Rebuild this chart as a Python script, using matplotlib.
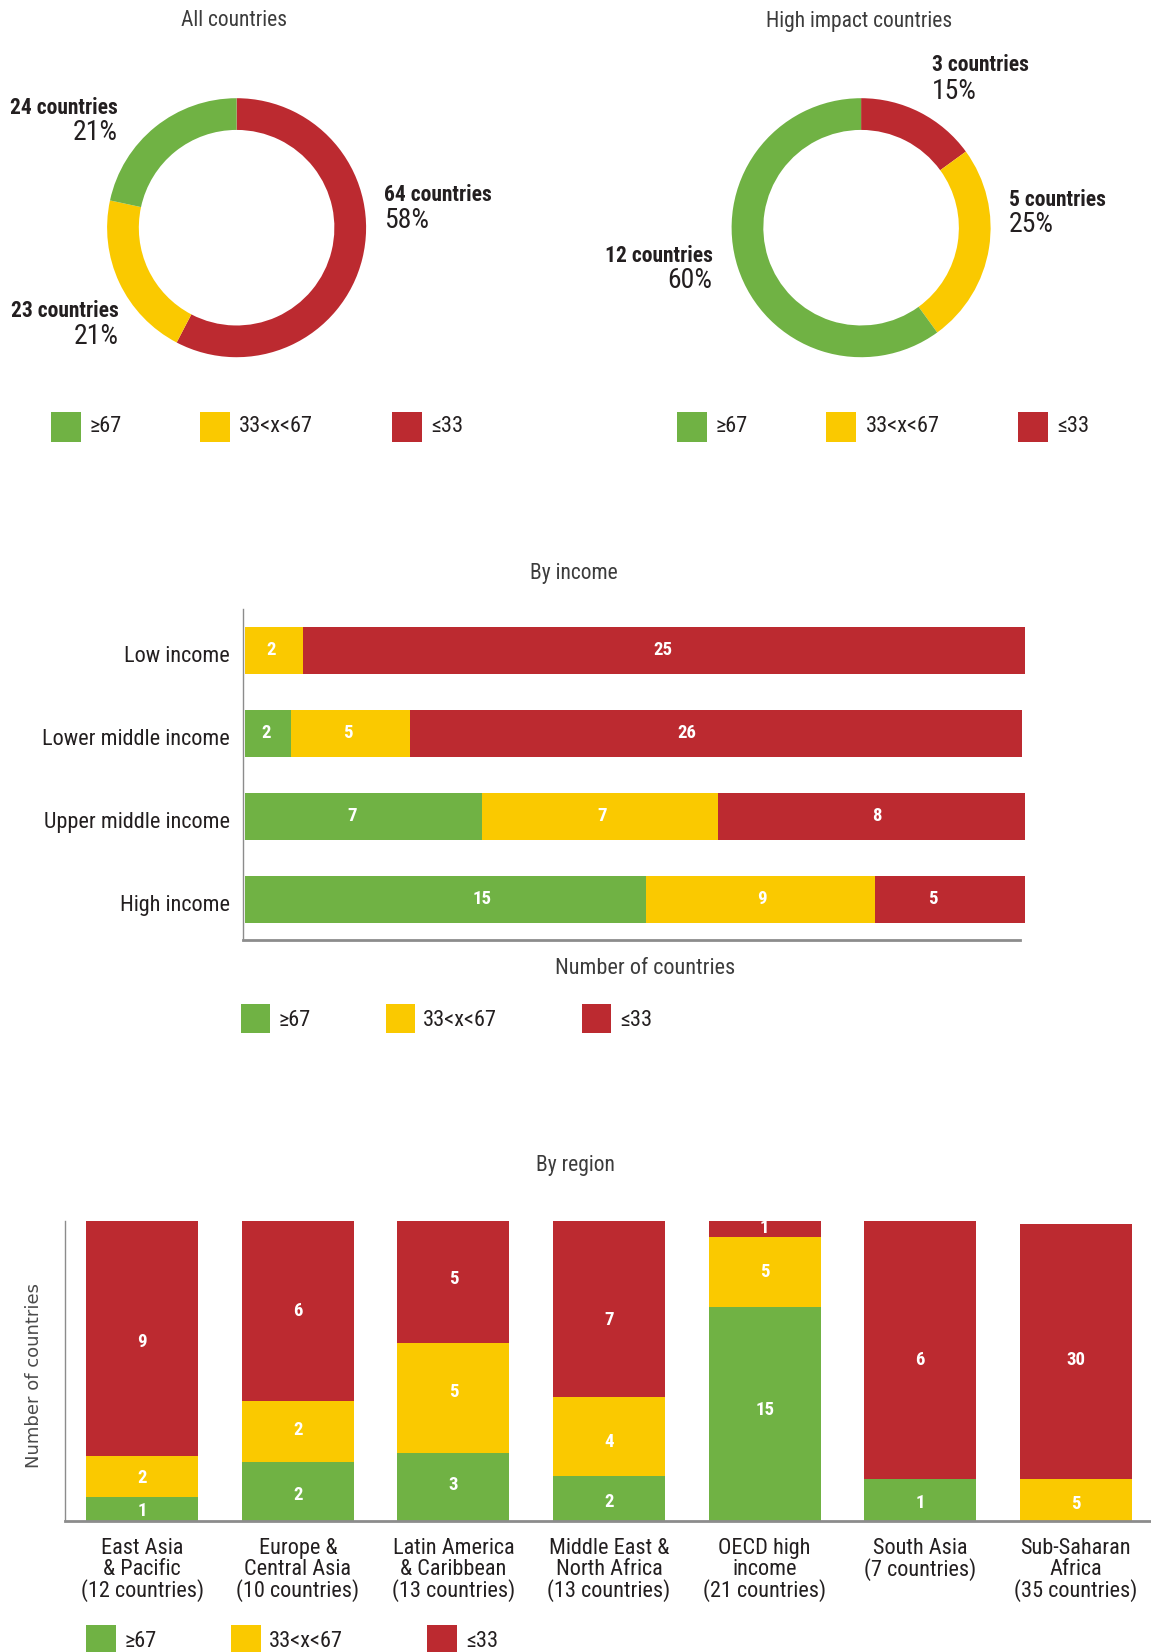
import matplotlib
matplotlib.use('Agg')
import matplotlib.pyplot as plt
from matplotlib import font_manager
from matplotlib.patches import Rectangle
from matplotlib.transforms import ScaledTranslation
import numpy as np

W, H = 1151, 1652
avail = {f.name for f in font_manager.fontManager.ttflist}
COND = next((n for n in ['Liberation Sans Narrow', 'Roboto Condensed', 'Open Sans Condensed',
                         'Noto Sans Condensed', 'Arial Narrow'] if n in avail), 'Liberation Sans')
plt.rcParams['font.family'] = [COND, 'DejaVu Sans']

GREEN = '#70B244'
YELLOW = '#FAC900'
RED = '#BC2A30'
TEXT = '#231F20'
GREY = '#3C3C3C'
SPINE = '#8C8C8C'

# ---------------- data ----------------
categories = ['≥67', '33<x<67', '≤33']
colors = [GREEN, YELLOW, RED]

all_counts = [24, 23, 64]
all_pct = [21, 21, 58]
high_counts = [12, 5, 3]
high_pct = [60, 25, 15]

income_groups = ['Low income', 'Lower middle income', 'Upper middle income', 'High income']
income_green = [0, 2, 7, 15]
income_yellow = [2, 5, 7, 9]
income_red = [25, 26, 8, 5]
# segment lengths (% of bar) as drawn in the picture
income_share_green = [0.0, 5.9, 30.4, 51.4]
income_share_yellow = [7.4, 15.3, 30.3, 29.4]
income_share_red = [92.6, 78.4, 39.3, 19.2]

region_names = ['East Asia\n& Pacific\n(12 countries)', 'Europe &\nCentral Asia\n(10 countries)',
                'Latin America\n& Caribbean\n(13 countries)', 'Middle East &\nNorth Africa\n(13 countries)',
                'OECD high\nincome\n(21 countries)', 'South Asia\n(7 countries)',
                'Sub-Saharan\nAfrica\n(35 countries)']
region_green = [1, 2, 3, 2, 15, 1, 0]
region_yellow = [2, 2, 5, 4, 5, 0, 5]
region_red = [9, 6, 5, 7, 1, 6, 30]
# segment heights (% of bar) as drawn in the picture
region_share_green = [7.9, 19.8, 22.8, 14.9, 71.1, 13.9, 0.0]
region_share_yellow = [13.7, 20.3, 36.3, 26.4, 23.6, 0.0, 13.9]
region_share_red = [78.4, 59.9, 40.9, 58.7, 5.3, 86.1, 85.1]

# ---------------- label placement (layout, % along each bar) ----------------
income_lab_green = [0, 2.7, 13.7, 30.4]
income_lab_yellow = [3.3, 13.2, 45.8, 66.3]
income_lab_red = [53.6, 56.7, 81.0, 88.2]
region_lab_green = [3.2, 8.8, 11.9, 6.3, 36.8, 6.0, 0]
region_lab_yellow = [14.4, 30.2, 42.8, 26.3, 82.8, 0, 5.6]
region_lab_red = [59.6, 69.8, 80.7, 67.0, 97.5, 53.7, 53.7]

# ---------------- figure ----------------
fig = plt.figure(figsize=(W / 100, H / 100), dpi=100)


def ftext(x, y, s, **kw):
    return fig.text(x / W, 1 - y / H, s, **kw)


def legend(sq_x, lab_x, yc, size=30, lab_y=None):
    if lab_y is None:
        lab_y = yc
    for sx, lx, c, lab in zip(sq_x, lab_x, colors, categories):
        fig.add_artist(Rectangle((sx / W, 1 - (yc + size / 2) / H), size / W, size / H,
                                 transform=fig.transFigure, facecolor=c, edgecolor='none'))
        ftext(lx, lab_y, lab, ha='left', va='center', fontsize=16, color=TEXT)


def donut(cx, cy, R, counts):
    ax = fig.add_axes([(cx - R) / W, 1 - (cy + R) / H, 2 * R / W, 2 * R / H])
    ax.pie(counts[::-1], colors=colors[::-1], startangle=90, counterclock=False, radius=1,
           wedgeprops=dict(width=0.245, edgecolor='none', linewidth=0))
    ax.set_xlim(-1, 1)
    ax.set_ylim(-1, 1)
    ax.set_aspect('equal')
    ax.axis('off')


def donut_label(x, y, y2, count, pct, ha):
    ftext(x, y, f'{count} countries', ha=ha, va='center', fontsize=15.5,
          fontweight='bold', color=TEXT)
    ftext(x, y2, f'{pct}%', ha=ha, va='center', fontsize=20, color=TEXT)


# Donut 1
ftext(234, 21, 'All countries', ha='center', va='center', fontsize=15.5, color=GREY)
donut(236.6, 227.7, 129.5, all_counts)
donut_label(118, 107.5, 132.5, all_counts[0], all_pct[0], 'right')
donut_label(119, 311, 336, all_counts[1], all_pct[1], 'right')
donut_label(383.7, 195, 220, all_counts[2], all_pct[2], 'left')
legend([50.6, 200.3, 392.1], [89.6, 239.3, 431.1], 426.5)

# Donut 2
ftext(859, 21, 'High impact countries', ha='center', va='center', fontsize=15.5, color=GREY)
donut(861.1, 227.7, 129.5, high_counts)
donut_label(712.5, 256, 280, high_counts[0], high_pct[0], 'right')
donut_label(1008.7, 200, 224.5, high_counts[1], high_pct[1], 'left')
donut_label(931.8, 65.3, 91.5, high_counts[2], high_pct[2], 'left')
legend([676.7, 826.4, 1018.2], [715.7, 865.4, 1057.2], 426.5)

# ---------------- By income ----------------
ftext(573.4, 573.5, 'By income', ha='center', va='center', fontsize=15.5, color=GREY)
L, R_, T, B = 243, 1025, 609, 940.3
ax = fig.add_axes([L / W, 1 - B / H, (R_ - L) / W, (B - T) / H])
y = np.arange(len(income_groups))
left = np.zeros(len(income_groups))
for shares, counts, labpos, c in zip([income_share_green, income_share_yellow, income_share_red],
                                     [income_green, income_yellow, income_red],
                                     [income_lab_green, income_lab_yellow, income_lab_red], colors):
    shares = np.array(shares)
    ax.barh(y, shares, left=left, height=0.563, color=c, edgecolor='none')
    for i, (n, p) in enumerate(zip(counts, labpos)):
        if n > 0:
            ax.text(p, y[i], str(n), ha='center', va='center', color='white',
                    fontsize=13.5, fontweight='bold')
    left += shares
ax.set_xlim(-0.26, 100)
ax.set_ylim(3.493, -0.499)
ax.set_yticks(y, income_groups)
ax.set_xticks([])
ax.tick_params(axis='y', length=0, pad=9.5, labelsize=16, labelcolor=TEXT)
for lab in ax.get_yticklabels():
    lab.set_transform(lab.get_transform() + ScaledTranslation(0, -4 / 100, fig.dpi_scale_trans))
for s in ['top', 'right']:
    ax.spines[s].set_visible(False)
ax.spines['left'].set_color(SPINE)
ax.spines['left'].set_linewidth(1.0)
ax.spines['bottom'].set_color(SPINE)
ax.spines['bottom'].set_linewidth(2.0)
ax.spines['bottom'].set_bounds(-0.26, 99.4)
ftext(645, 969, 'Number of countries', ha='center', va='center', fontsize=16, color=GREY)
legend([241.4, 385.8, 581.8], [278.3, 422.7, 619.8], 1018.7, size=29, lab_y=1020)

# ---------------- By region ----------------
ftext(575.5, 1165.5, 'By region', ha='center', va='center', fontsize=15.5, color=GREY)
L, T, B = 65.3, 1220.6, 1521
ax = fig.add_axes([L / W, 1 - B / H, (W - L) / W, (B - T) / H])
x = np.arange(len(region_names))
bottom = np.zeros(len(region_names))
for shares, counts, labpos, c in zip([region_share_green, region_share_yellow, region_share_red],
                                     [region_green, region_yellow, region_red],
                                     [region_lab_green, region_lab_yellow, region_lab_red], colors):
    shares = np.array(shares)
    ax.bar(x, shares, bottom=bottom, width=0.72, color=c, edgecolor='none')
    for i, (n, p) in enumerate(zip(counts, labpos)):
        if n > 0:
            ax.text(x[i], p, str(n), ha='center', va='center', color='white',
                    fontsize=13.5, fontweight='bold')
    bottom += shares
ax.set_xlim(-0.495, 6.484)
ax.set_ylim(0, 100)
ax.set_xticks(x, region_names)
ax.set_yticks([])
ax.tick_params(axis='x', length=0, pad=12.5, labelsize=16, labelcolor=TEXT)
for lab in ax.get_xticklabels():
    lab.set_linespacing(0.95)
for s in ['top', 'right']:
    ax.spines[s].set_visible(False)
ax.spines['left'].set_color(SPINE)
ax.spines['left'].set_linewidth(1.0)
ax.spines['bottom'].set_color(SPINE)
ax.spines['bottom'].set_linewidth(2.0)
ftext(33.7, 1375.5, 'Number of countries', ha='center', va='center', rotation=90,
      fontsize=13, color='#4A4A4A', family='DejaVu Sans')
legend([86.4, 230.8, 426.9], [124.4, 268.8, 465.9], 1640, size=30, lab_y=1641.5)

fig.savefig('out.png', dpi=100)
